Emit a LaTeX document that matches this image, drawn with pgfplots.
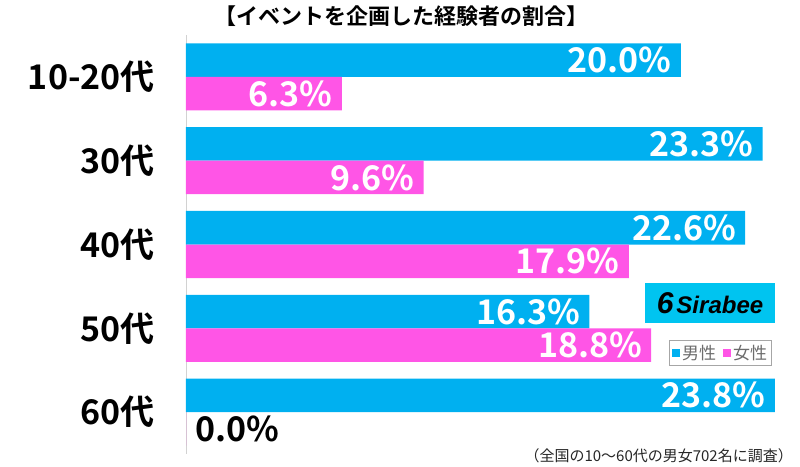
\documentclass[border=0pt]{standalone}
\usepackage{pgfplots}
\pgfplotsset{compat=1.18}
\usepackage{pgfplotstable}
\usepackage{fontspec}
\setmainfont{Noto Sans CJK JP}[BoldFont={Noto Sans CJK JP Bold}]
\newfontfamily\logofont{Liberation Sans}
\definecolor{cblue}{RGB}{0,176,240}
\definecolor{cpink}{RGB}{255,85,230}
\definecolor{logoblue}{RGB}{0,196,240}
\pgfplotstableread{
y male female
0 20.0 6.3
1 23.3 9.6
2 22.6 17.9
3 16.3 18.8
4 23.8 0.0
}\datatable
\begin{document}
\begin{tikzpicture}
\useasboundingbox (-186pt,-12pt) rectangle (614pt,454pt);
\begin{axis}[
  scale only axis, width=604pt, height=419pt,
  at={(0pt,0pt)}, anchor=south west,
  xmin=0, xmax=24.41, ymin=-0.5, ymax=4.5, y dir=reverse,
  axis x line=none, axis y line*=left,
  y axis line style={-, draw=gray!35, line width=0.8pt},
  ytick={0,1,2,3,4}, yticklabels={10-20代,30代,40代,50代,60代},
  major tick length=0pt,
  yticklabel style={font=\bfseries\fontsize{34}{34}\selectfont, inner sep=0pt, xshift=-31pt},
  xbar, bar width=0.4,
  /pgf/number format/assume math mode=true,
  point meta=x,
  clip=false,
  legend style={at={(0.885,0.241)}, anchor=center, draw=gray!70, line width=0.8pt,
    font=\fontsize{17}{17}\selectfont, text=gray!85!black, inner sep=2.5pt,
    /tikz/every even column/.append style={column sep=5pt}},
  legend columns=2,
  legend image code/.code={\fill[#1,draw=none] (1pt,-4pt) rectangle (9pt,4pt);},
]
\addplot[fill=cblue, draw=none, bar shift=-0.2,
  nodes near coords={\pgfmathprintnumber[fixed,fixed zerofill,precision=1]{\pgfplotspointmeta}\%},
  every node near coord/.append style={anchor=east, inner sep=0pt, xshift=-9pt, text=white,
    font=\bfseries\fontsize{34}{34}\selectfont}]
  table[x=male, y=y] {\datatable};
\addplot[fill=cpink, draw=none, bar shift=0.2,
  skip coords between index={4}{5},
  nodes near coords={\pgfmathprintnumber[fixed,fixed zerofill,precision=1]{\pgfplotspointmeta}\%},
  every node near coord/.append style={anchor=east, inner sep=0pt, xshift=-9pt, text=white,
    font=\bfseries\fontsize{34}{34}\selectfont}]
  table[x=female, y=y] {\datatable};
\addplot[forget plot, fill=cpink, draw=none, bar shift=0.2,
  skip coords between index={0}{4},
  nodes near coords={\pgfmathprintnumber[fixed,fixed zerofill,precision=1]{\pgfplotspointmeta}\%},
  every node near coord/.append style={anchor=west, inner sep=0pt, xshift=9pt, text=black,
    font=\bfseries\fontsize{34}{34}\selectfont}]
  table[x=female, y=y] {\datatable};
\legend{男性,女性}
\end{axis}
\node[font=\bfseries\fontsize{22}{22}\selectfont] at (215pt,438pt) {【イベントを企画した経験者の割合】};
\node[anchor=east, font=\fontsize{15}{15}\selectfont, text=black!85, inner sep=0pt] at (607pt,-2pt) {（全国の10〜60代の男女702名に調査）};
\node[fill=logoblue, minimum width=130pt, minimum height=40pt, inner sep=0pt] at (524pt,151pt)
  {\logofont\bfseries\itshape{\fontsize{30}{30}\selectfont 6}\hspace{3pt}{\fontsize{24}{24}\selectfont Sirabee}};
\end{tikzpicture}
\end{document}
